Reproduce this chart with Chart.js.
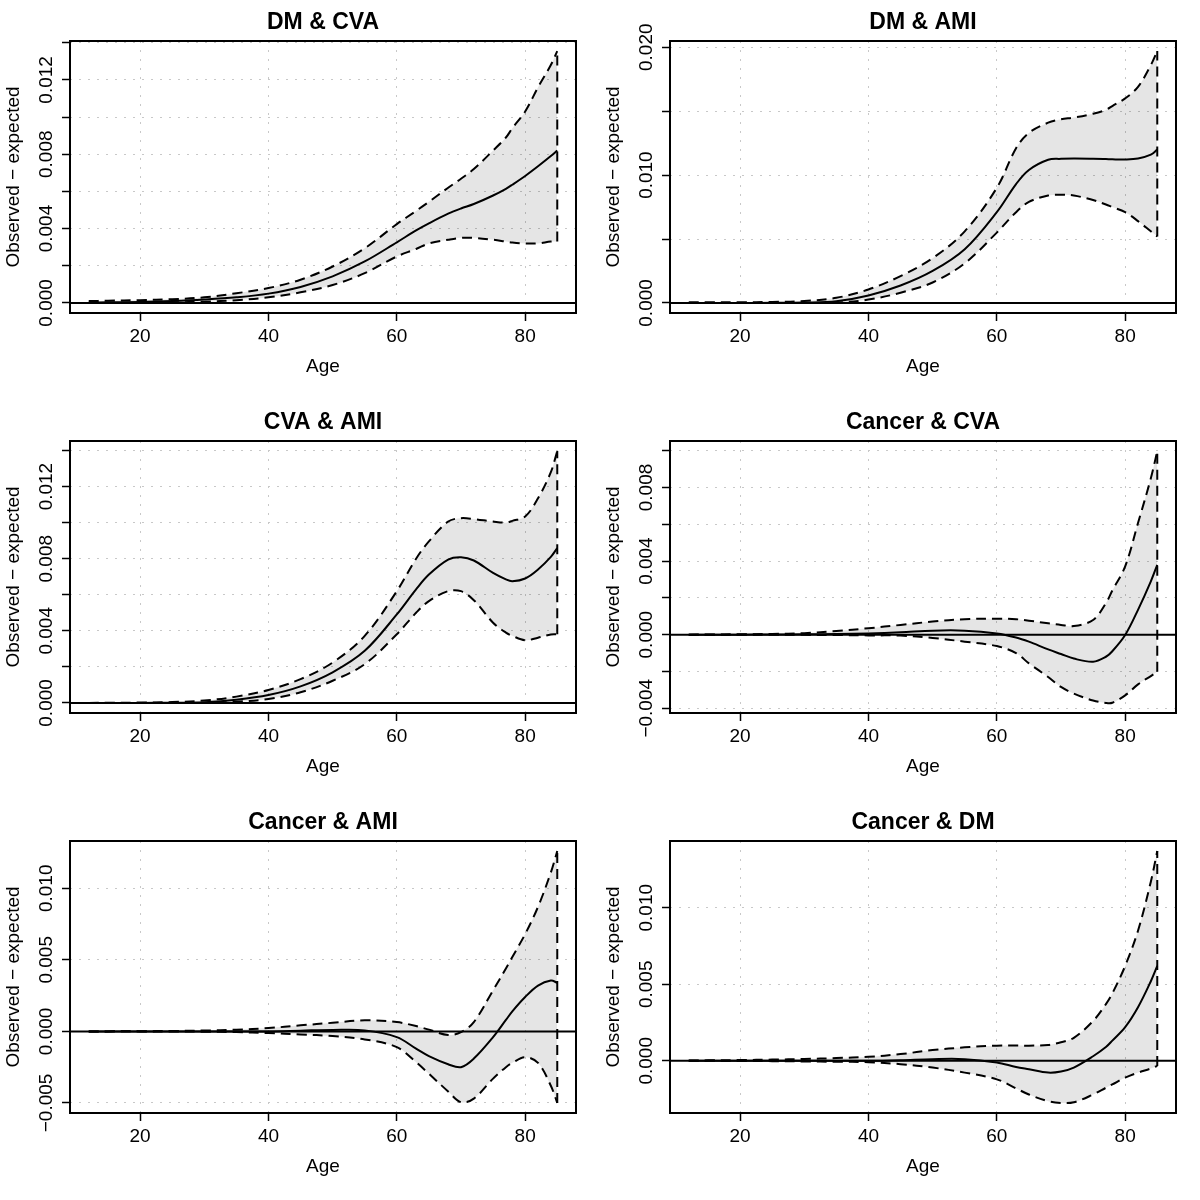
<!DOCTYPE html>
<html>
<head>
<meta charset="utf-8">
<script src="https://cdn.jsdelivr.net/npm/chart.js@4.4.1/dist/chart.umd.min.js"></script>
<style>
  html, body { margin: 0; padding: 0; background: #fff; }
  #grid { position: relative; width: 1200px; height: 1200px; }
  #grid canvas { position: absolute; }
</style>
</head>
<body>
<div id="grid">
  <canvas id="p1" width="600" height="400" style="left:0;top:0"></canvas>
  <canvas id="p2" width="600" height="400" style="left:600px;top:0"></canvas>
  <canvas id="p3" width="600" height="400" style="left:0;top:400px"></canvas>
  <canvas id="p4" width="600" height="400" style="left:600px;top:400px"></canvas>
  <canvas id="p5" width="600" height="400" style="left:0;top:800px"></canvas>
  <canvas id="p6" width="600" height="400" style="left:600px;top:800px"></canvas>
</div>
<script>
// ages shared by all panels
const ages = [12, 15, 20, 25, 30, 35, 40, 45, 50, 55, 60, 63, 65, 68, 70, 72, 75, 77, 78, 80, 82, 84, 85];
const xTicks = [20, 40, 60, 80];

// DM & CVA
const dmCvaMean  = [0.00002, 0.00003, 0.00005, 0.0001, 0.00018, 0.0003, 0.0005, 0.00086, 0.00143, 0.00223, 0.00326, 0.0039, 0.00428, 0.0048, 0.00508, 0.00532, 0.00578, 0.00614, 0.00636, 0.00683, 0.00735, 0.0079, 0.0082];
const dmCvaUpper = [0.0001, 0.00012, 0.00015, 0.0002, 0.0003, 0.00052, 0.0008, 0.00125, 0.00196, 0.00294, 0.00424, 0.00495, 0.00544, 0.0062, 0.00668, 0.0072, 0.0082, 0.0089, 0.0094, 0.0103, 0.0116, 0.0128, 0.01355];
const dmCvaLower = [0, 0.00001, 0.00001, 0.00003, 0.00007, 0.00015, 0.0003, 0.00057, 0.00096, 0.0016, 0.0025, 0.0029, 0.0032, 0.0034, 0.0035, 0.0035, 0.0034, 0.0033, 0.00325, 0.0032, 0.0032, 0.0033, 0.0033];

// DM & AMI
const dmAmiMean  = [0, 0, 0, 0.00001, 0.00003, 0.00013, 0.00058, 0.00136, 0.0025, 0.0042, 0.0071, 0.0093, 0.0104, 0.0112, 0.01127, 0.0113, 0.01128, 0.01125, 0.01123, 0.01122, 0.0113, 0.0116, 0.012];
const dmAmiUpper = [0.00005, 0.00005, 0.00005, 0.00008, 0.00015, 0.0004, 0.00105, 0.0021, 0.0035, 0.0056, 0.009, 0.0121, 0.0133, 0.0141, 0.01436, 0.0145, 0.0148, 0.0151, 0.0154, 0.016, 0.0169, 0.0186, 0.0197];
const dmAmiLower = [0, 0, 0, 0, 0, 0.00003, 0.00026, 0.0008, 0.0016, 0.0031, 0.0055, 0.0071, 0.0079, 0.0084, 0.00847, 0.0084, 0.00805, 0.0077, 0.0075, 0.0071, 0.0064, 0.0056, 0.0052];

// CVA & AMI
const cvaAmiMean  = [0, 0, 0, 0.00001, 0.00004, 0.00018, 0.00044, 0.00092, 0.0017, 0.00289, 0.00491, 0.0063, 0.00712, 0.00795, 0.00808, 0.0079, 0.00721, 0.00685, 0.00675, 0.0069, 0.0074, 0.0081, 0.00859];
const cvaAmiUpper = [0, 0.00001, 0.00002, 0.00005, 0.00013, 0.00035, 0.00072, 0.00132, 0.00224, 0.00372, 0.0062, 0.008, 0.00896, 0.01006, 0.01025, 0.0102, 0.01006, 0.01, 0.0101, 0.01034, 0.01135, 0.0128, 0.01397];
const cvaAmiLower = [0, 0, 0, 0, 0, 0.00007, 0.00022, 0.00059, 0.00123, 0.00215, 0.00381, 0.005, 0.00565, 0.0062, 0.0062, 0.0057, 0.00445, 0.0039, 0.00372, 0.00348, 0.00362, 0.0038, 0.00381];

// Cancer & CVA
const canCvaMean  = [0, 0, 0, 0.00001, 0.00002, 0.00004, 0.00007, 0.00013, 0.00022, 0.00022, 0.00007, -0.00015, -0.00038, -0.0008, -0.00105, -0.0013, -0.00147, -0.0012, -0.0009, -0.00002, 0.00135, 0.0029, 0.0038];
const canCvaUpper = [0, 0.00001, 0.00002, 0.00004, 0.00008, 0.0002, 0.00035, 0.00053, 0.00071, 0.00084, 0.00087, 0.00084, 0.00076, 0.00062, 0.00053, 0.00047, 0.0008, 0.00171, 0.0024, 0.00371, 0.00607, 0.0085, 0.00998];
const canCvaLower = [0, 0, -0.00001, -0.00001, -0.00001, -0.00002, -0.00004, -0.00005, -0.00018, -0.00038, -0.00062, -0.001, -0.00156, -0.0023, -0.00284, -0.0032, -0.00358, -0.00371, -0.0037, -0.0033, -0.0027, -0.00225, -0.00202];

// Cancer & AMI
const canAmiMean  = [0, 0, 0, 0, 0, 0, 0, 0.00005, 0.0001, 0.00007, -0.0004, -0.00121, -0.00173, -0.0023, -0.0025, -0.0019, -0.0004, 0.0008, 0.0014, 0.0024, 0.0032, 0.00355, 0.0034];
const canAmiUpper = [0, 0, 0.00001, 0.00003, 0.00006, 0.00012, 0.00023, 0.00042, 0.0006, 0.00077, 0.00065, 0.00037, 0.00012, -0.00025, -0.00005, 0.00065, 0.00287, 0.0044, 0.0052, 0.0068, 0.0087, 0.0111, 0.0126];
const canAmiLower = [0, 0, 0, -0.00001, -0.00002, -0.00005, -0.00012, -0.00021, -0.00033, -0.00056, -0.0011, -0.00215, -0.00296, -0.0042, -0.00495, -0.0047, -0.0033, -0.0025, -0.0022, -0.0018, -0.0022, -0.0038, -0.005];

// Cancer & DM
const canDmMean  = [0, 0, 0, 0, 0, 0.00001, 0, 0.00004, 0.00011, 0.00011, -0.00011, -0.0004, -0.00055, -0.00077, -0.0007, -0.00044, 0.0003, 0.0009, 0.00132, 0.0022, 0.0035, 0.0052, 0.0062];
const canDmUpper = [0.00002, 0.00003, 0.00005, 0.00008, 0.00012, 0.00018, 0.00026, 0.00044, 0.0007, 0.00088, 0.00099, 0.001, 0.00099, 0.00104, 0.00121, 0.0015, 0.0026, 0.0037, 0.0044, 0.0062, 0.0085, 0.0117, 0.0137];
const canDmLower = [0, 0, -0.00001, -0.00002, -0.00004, -0.00006, -0.00009, -0.00022, -0.00044, -0.00077, -0.00121, -0.0018, -0.0022, -0.00264, -0.00275, -0.00271, -0.0022, -0.00176, -0.00154, -0.0011, -0.00077, -0.0005, -0.00033];

// y ticks and their labels (R drops the labels that would overlap)
const yTicks2m = [0, 0.002, 0.004, 0.006, 0.008, 0.010, 0.012, 0.014];
const yLabels2m = ['0.000', '', '0.004', '', '0.008', '', '0.012', ''];
const yTicksDmAmi = [0, 0.005, 0.010, 0.015, 0.020];
const yLabelsDmAmi = ['0.000', '', '0.010', '', '0.020'];
const yTicksCanCva = [-0.004, -0.002, 0, 0.002, 0.004, 0.006, 0.008, 0.010];
const yLabelsCanCva = ['\u22120.004', '', '0.000', '', '0.004', '', '0.008', ''];
const yTicksCanAmi = [-0.005, 0, 0.005, 0.010];
const yLabelsCanAmi = ['\u22120.005', '0.000', '0.005', '0.010'];
const yTicksCanDm = [0, 0.005, 0.010];
const yLabelsCanDm = ['0.000', '0.005', '0.010'];

const FONT = '"Liberation Sans", Arial, sans-serif';
Chart.defaults.font.family = FONT;
Chart.defaults.color = '#000';

function pts(ys) {
    return ages.map((a, i) => ({ x: a, y: ys[i] }));
}

// R style axis range: data range plus 4% on both sides
function rRange(lo, hi) {
    const ext = (hi - lo) * 0.04;
    return [lo - ext, hi + ext];
}

function makePanel(id, title, mean, upper, lower, yTicks, yLabels) {
    const last = ages.length - 1;
    const xr = rRange(ages[0], ages[last]);
    const yr = rRange(Math.min(...lower), Math.max(...upper));

    const decor = {
        id: 'decor',
        afterDatasetsDraw(chart) {
            const { ctx, chartArea: a } = chart;
            const y0 = chart.scales.y.getPixelForValue(0);
            ctx.save();
            ctx.strokeStyle = '#000';
            ctx.lineWidth = 2;
            ctx.beginPath();
            ctx.moveTo(a.left, y0);
            ctx.lineTo(a.right, y0);
            ctx.stroke();
            ctx.restore();
        },
        afterDraw(chart) {
            const { ctx, chartArea: a } = chart;
            const ys = chart.scales.y;
            ctx.save();
            // box
            ctx.strokeStyle = '#000';
            ctx.lineWidth = 2;
            ctx.strokeRect(a.left, a.top, a.right - a.left, a.bottom - a.top);
            // title
            ctx.fillStyle = '#000';
            ctx.font = 'bold 23px ' + FONT;
            ctx.textAlign = 'center';
            ctx.textBaseline = 'alphabetic';
            ctx.fillText(title, (a.left + a.right) / 2, 29);
            // rotated y tick labels
            ctx.font = '19px ' + FONT;
            yTicks.forEach((v, i) => {
                if (!yLabels[i]) return;
                ctx.save();
                ctx.translate(a.left - 18, ys.getPixelForValue(v));
                ctx.rotate(-Math.PI / 2);
                ctx.fillText(yLabels[i], 0, 0);
                ctx.restore();
            });
            ctx.restore();
        }
    };

    const dashed = { borderColor: '#000', borderWidth: 2, borderDash: [10, 6], pointRadius: 0, tension: 0.35 };

    new Chart(document.getElementById(id), {
        type: 'line',
        data: {
            datasets: [
                Object.assign({ label: 'lower', data: pts(lower), fill: false }, dashed),
                Object.assign({ label: 'upper', data: pts(upper), fill: '-1', backgroundColor: 'rgba(0,0,0,0.1)' }, dashed),
                { label: 'mean', data: pts(mean), borderColor: '#000', borderWidth: 2, pointRadius: 0, fill: false, tension: 0.35 },
                Object.assign({ label: 'edge', data: [{ x: ages[last], y: lower[last] }, { x: ages[last], y: upper[last] }], fill: false }, dashed, { tension: 0 })
            ]
        },
        options: {
            responsive: false,
            animation: false,
            events: [],
            layout: { padding: { top: 41, right: 24, left: 0, bottom: 0 } },
            plugins: {
                legend: { display: false },
                tooltip: { enabled: false },
                filler: { drawTime: 'beforeDatasetsDraw' }
            },
            scales: {
                x: {
                    type: 'linear',
                    min: xr[0],
                    max: xr[1],
                    afterBuildTicks: s => { s.ticks = xTicks.map(v => ({ value: v })); },
                    afterFit: s => { s.height = 87; },
                    ticks: { font: { size: 19 }, padding: 4, autoSkip: false, maxRotation: 0 },
                    grid: { color: '#c8c8c8', lineWidth: 1, tickLength: 8, tickColor: '#000', tickWidth: 1.5, tickBorderDash: [] },
                    border: { display: false, dash: [2, 7] },
                    title: { display: true, text: 'Age', font: { size: 19 }, padding: { top: 0, bottom: 22 } }
                },
                y: {
                    min: yr[0],
                    max: yr[1],
                    afterBuildTicks: s => { s.ticks = yTicks.map(v => ({ value: v })); },
                    afterFit: s => { s.width = 70; },
                    ticks: { display: false },
                    grid: { color: '#c8c8c8', lineWidth: 1, tickLength: 8, tickColor: '#000', tickWidth: 1.5, tickBorderDash: [] },
                    border: { display: false, dash: [2, 7] },
                    title: { display: true, text: 'Observed \u2212 expected', font: { size: 19 }, padding: { top: 2, bottom: 0 } }
                }
            }
        },
        plugins: [decor]
    });
}

makePanel('p1', 'DM & CVA', dmCvaMean, dmCvaUpper, dmCvaLower, yTicks2m, yLabels2m);
makePanel('p2', 'DM & AMI', dmAmiMean, dmAmiUpper, dmAmiLower, yTicksDmAmi, yLabelsDmAmi);
makePanel('p3', 'CVA & AMI', cvaAmiMean, cvaAmiUpper, cvaAmiLower, yTicks2m, yLabels2m);
makePanel('p4', 'Cancer & CVA', canCvaMean, canCvaUpper, canCvaLower, yTicksCanCva, yLabelsCanCva);
makePanel('p5', 'Cancer & AMI', canAmiMean, canAmiUpper, canAmiLower, yTicksCanAmi, yLabelsCanAmi);
makePanel('p6', 'Cancer & DM', canDmMean, canDmUpper, canDmLower, yTicksCanDm, yLabelsCanDm);
</script>
</body>
</html>
